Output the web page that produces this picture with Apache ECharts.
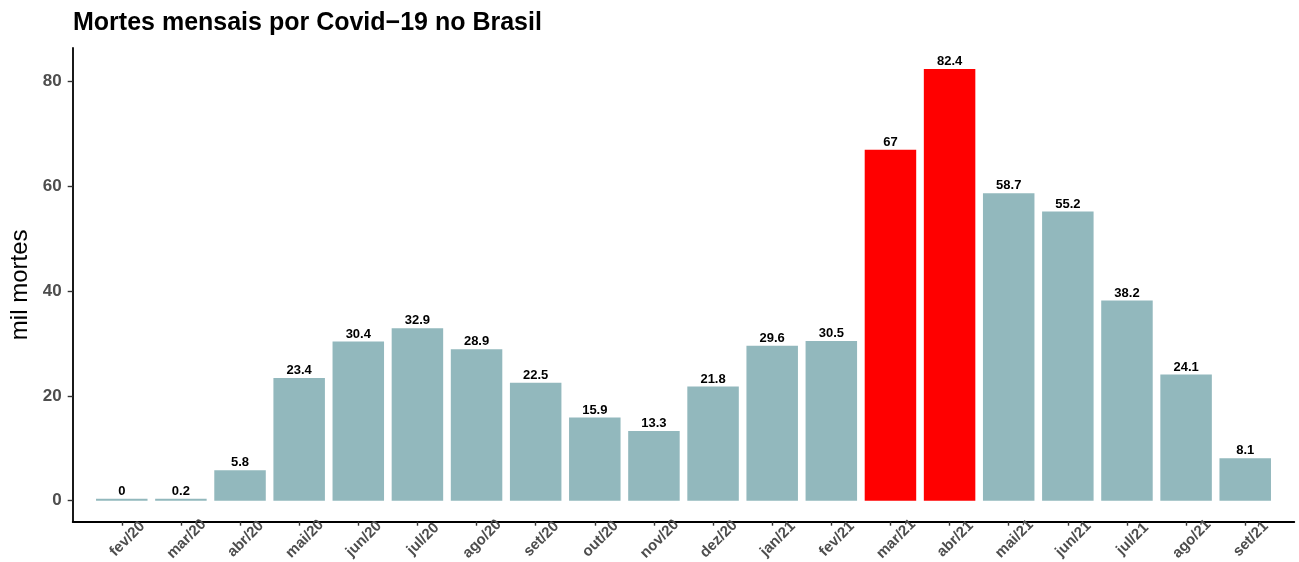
<!DOCTYPE html>
<html>
<head>
<meta charset="utf-8">
<title>Mortes mensais por Covid−19 no Brasil</title>
<script src="https://cdn.jsdelivr.net/npm/echarts@6/dist/echarts.min.js"></script>
<style>
  html, body { margin: 0; padding: 0; background: #ffffff; }
  #chart { width: 1299px; height: 562px; }
</style>
</head>
<body>
<div id="chart"></div>
<script>
// Monthly Covid-19 deaths in Brazil, in thousands
const months = ['fev/20', 'mar/20', 'abr/20', 'mai/20', 'jun/20', 'jul/20', 'ago/20', 'set/20',
  'out/20', 'nov/20', 'dez/20', 'jan/21', 'fev/21', 'mar/21', 'abr/21', 'mai/21', 'jun/21',
  'jul/21', 'ago/21', 'set/21'];
const deaths = [0, 0.2, 5.8, 23.4, 30.4, 32.9, 28.9, 22.5, 15.9, 13.3, 21.8, 29.6, 30.5,
  67, 82.4, 58.7, 55.2, 38.2, 24.1, 8.1];
// peak months drawn in red
const highlighted = ['mar/21', 'abr/21'];
const yTicks = [0, 20, 40, 60, 80];

const FONT = '"Liberation Sans", Arial, Helvetica, sans-serif';
const BASE_COLOR = '#92B8BD';
const PEAK_COLOR = '#FF0000';

// bars sit at positions 1..n on a numeric axis so the axis frame can extend past the outer bars
const positions = months.map((m, i) => i + 1);
const barData = deaths.map((v, i) => ({
  value: [positions[i], v],
  itemStyle: { color: highlighted.includes(months[i]) ? PEAK_COLOR : BASE_COLOR }
}));

const chart = echarts.init(document.getElementById('chart'), null, { renderer: 'canvas' });

chart.setOption({
  animation: false,
  backgroundColor: '#ffffff',
  title: {
    text: 'Mortes mensais por Covid−19 no Brasil',
    left: 73,
    top: 11,
    padding: 0,
    textStyle: { fontFamily: FONT, fontSize: 25, fontWeight: 'bold', color: '#000000' }
  },
  grid: {
    left: 72.7,
    right: 4.7,
    top: 48,
    bottom: 40.3,
    containLabel: false,
    outerBoundsMode: 'none'
  },
  xAxis: {
    type: 'value',
    min: 0.17,
    max: 20.83,
    splitLine: { show: false },
    axisLine: { show: true, onZero: false, lineStyle: { color: '#000000', width: 1.8 } },
    axisTick: {
      show: true,
      customValues: positions,
      length: 4,
      lineStyle: { color: '#333333', width: 1.4 }
    },
    axisLabel: {
      customValues: positions,
      rotate: 45,
      align: 'center',
      verticalAlign: 'middle',
      margin: 23,
      padding: [0, 0, 0, 16],
      fontFamily: FONT,
      fontSize: 15,
      fontWeight: 'bold',
      color: '#4D4D4D',
      formatter: (v) => months[Math.round(v) - 1] || ''
    }
  },
  yAxis: {
    type: 'value',
    min: -4.0,
    max: 86.4,
    name: 'mil mortes',
    nameLocation: 'middle',
    nameRotate: 90,
    nameGap: 37,
    nameTextStyle: { fontFamily: FONT, fontSize: 24, color: '#000000' },
    splitLine: { show: false },
    axisLine: { show: true, onZero: false, lineStyle: { color: '#000000', width: 1.8 } },
    axisTick: {
      show: true,
      customValues: yTicks,
      length: 5,
      lineStyle: { color: '#333333', width: 1.4 }
    },
    axisLabel: {
      customValues: yTicks,
      margin: 11,
      fontFamily: FONT,
      fontSize: 17,
      fontWeight: 'bold',
      color: '#4D4D4D'
    }
  },
  series: [{
    type: 'bar',
    data: barData,
    barWidth: 51.5,
    barMinHeight: 2,
    label: {
      show: true,
      position: 'top',
      distance: 1,
      fontFamily: FONT,
      fontSize: 13,
      fontWeight: 'bold',
      color: '#000000',
      formatter: (p) => String(p.value[1])
    }
  }]
});
</script>
</body>
</html>
